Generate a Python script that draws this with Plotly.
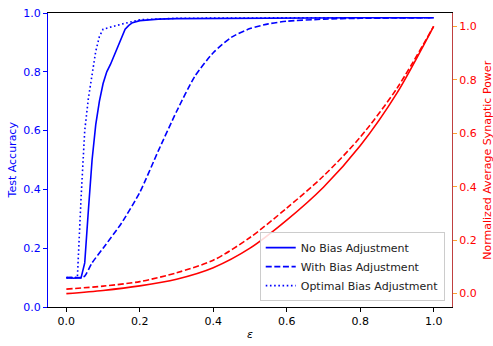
import plotly.graph_objects as go

# ---- data ----
eps_nb = [0.0, 0.01, 0.02, 0.03, 0.04, 0.05, 0.06, 0.07, 0.08, 0.09, 0.10, 0.11, 0.12, 0.13,
          0.14, 0.15, 0.16, 0.17, 0.18, 0.20, 0.25, 0.30, 0.40, 0.50, 0.60, 0.70, 0.80, 0.90, 1.0]
acc_no_bias = [0.099, 0.100, 0.098, 0.100, 0.099, 0.150, 0.330, 0.500, 0.620, 0.700, 0.760, 0.800,
               0.825, 0.855, 0.890, 0.920, 0.945, 0.958, 0.967, 0.974, 0.979, 0.981, 0.982, 0.983,
               0.984, 0.984, 0.984, 0.984, 0.984]

eps_wb = [0.0, 0.02, 0.04, 0.05, 0.07, 0.10, 0.15, 0.20, 0.25, 0.30, 0.35, 0.40, 0.45, 0.50,
          0.55, 0.60, 0.70, 0.80, 0.90, 1.0]
acc_with_bias = [0.100, 0.100, 0.100, 0.105, 0.150, 0.200, 0.285, 0.390, 0.530, 0.665, 0.785,
                 0.865, 0.918, 0.947, 0.963, 0.972, 0.979, 0.982, 0.983, 0.984]

eps_ob = [0.0, 0.01, 0.02, 0.03, 0.04, 0.05, 0.06, 0.07, 0.08, 0.09, 0.10, 0.15, 0.20, 0.30,
          0.40, 0.50, 0.60, 0.70, 0.80, 0.90, 1.0]
acc_optimal_bias = [0.100, 0.100, 0.100, 0.100, 0.370, 0.600, 0.710, 0.790, 0.870, 0.920, 0.945,
                    0.962, 0.977, 0.982, 0.983, 0.984, 0.984, 0.984, 0.984, 0.984, 0.984]

eps_pw = [0.0, 0.1, 0.2, 0.3, 0.4, 0.5, 0.6, 0.7, 0.8, 0.9, 1.0]
power_no_bias = [0.000, 0.012, 0.029, 0.054, 0.097, 0.170, 0.275, 0.398, 0.553, 0.750, 1.000]
power_with_bias = [0.017, 0.028, 0.045, 0.078, 0.125, 0.210, 0.320, 0.440, 0.585, 0.768, 1.000]

x_ticks = [0.0, 0.2, 0.4, 0.6, 0.8, 1.0]
y_ticks = [0.0, 0.2, 0.4, 0.6, 0.8, 1.0]

labels = ["No Bias Adjustment", "With Bias Adjustment", "Optimal Bias Adjustment"]

BLUE = "#0000ff"
RED = "#ff0000"
FONT = "DejaVu Sans"

fig = go.Figure()

fig.add_trace(go.Scatter(x=eps_nb, y=acc_no_bias, mode="lines", name=labels[0],
                         line=dict(color=BLUE, width=1.6), yaxis="y"))
fig.add_trace(go.Scatter(x=eps_wb, y=acc_with_bias, mode="lines", name=labels[1],
                         line=dict(color=BLUE, width=1.6, dash="6px,2.6px", shape="spline", smoothing=0.6),
                         yaxis="y"))
fig.add_trace(go.Scatter(x=eps_ob, y=acc_optimal_bias, mode="lines", name=labels[2],
                         line=dict(color=BLUE, width=1.6, dash="1.6px,2.6px"), yaxis="y"))

fig.add_trace(go.Scatter(x=eps_pw, y=power_no_bias, mode="lines", showlegend=False,
                         line=dict(color=RED, width=1.6, shape="spline", smoothing=0.8), yaxis="y2"))
fig.add_trace(go.Scatter(x=eps_pw, y=power_with_bias, mode="lines", showlegend=False,
                         line=dict(color=RED, width=1.6, dash="6px,2.6px", shape="spline", smoothing=0.8),
                         yaxis="y2"))

fig.update_layout(
    width=493, height=346,
    margin=dict(l=48, r=41, t=7, b=39),
    plot_bgcolor="white", paper_bgcolor="white",
    font=dict(family=FONT, size=11, color="black"),
    showlegend=True,
    xaxis=dict(range=[-0.05, 1.05], tickvals=x_ticks, ticktext=[f"{v:.1f}" for v in x_ticks],
               showgrid=False, zeroline=False, showline=True, linecolor="black", linewidth=1.2,
               mirror=True, ticks="outside", ticklen=4, tickcolor="black", tickwidth=1,
               tickfont=dict(size=11, color="black")),
    yaxis=dict(range=[0, 1], tickvals=y_ticks, ticktext=[f"{v:.1f}" for v in y_ticks],
               showgrid=False, zeroline=False, showline=True, linecolor=BLUE, linewidth=1.2,
               ticks="outside", ticklen=4, tickcolor=BLUE, tickwidth=1,
               tickfont=dict(size=11, color=BLUE)),
    yaxis2=dict(range=[-0.05, 1.05], tickvals=y_ticks, ticktext=[f"{v:.1f}" for v in y_ticks],
                overlaying="y", side="right", anchor="x",
                showgrid=False, zeroline=False, showline=True, linecolor="#c04040", linewidth=1.2,
                ticks="outside", ticklen=4, tickcolor="#ffa030", tickwidth=1,
                tickfont=dict(size=11, color=RED)),
    legend=dict(x=0.982, y=0.02, xanchor="right", yanchor="bottom",
                bgcolor="rgba(255,255,255,0.85)", bordercolor="#cccccc", borderwidth=1,
                font=dict(size=11, color="#222222"), tracegroupgap=0),
    annotations=[
        dict(text="<i>ε</i>", xref="paper", yref="paper", x=0.5, y=-0.093,
             xanchor="center", yanchor="middle", showarrow=False, font=dict(size=11, color="black")),
        dict(text="Test Accuracy", xref="paper", yref="paper", x=-0.088, y=0.5, textangle=-90,
             xanchor="center", yanchor="middle", showarrow=False, font=dict(size=11, color=BLUE)),
        dict(text="Normalized Average Synaptic Power", xref="paper", yref="paper", x=1.086, y=0.5,
             textangle=-90, xanchor="center", yanchor="middle", showarrow=False,
             font=dict(size=11, color=RED)),
    ],
)

fig.write_html("out.html", config={"displayModeBar": False},
               post_script="document.body.style.margin='0px';")
